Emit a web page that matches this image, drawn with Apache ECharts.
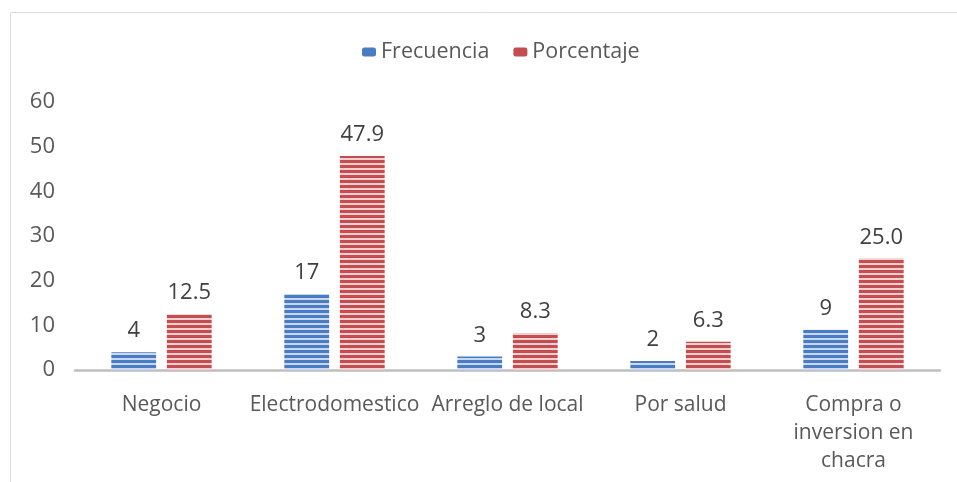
<!DOCTYPE html>
<html>
<head>
<meta charset="utf-8">
<script src="https://cdn.jsdelivr.net/npm/echarts@6/dist/echarts.min.js"></script>
<style>
  html, body { margin: 0; padding: 0; background: #fff; }
  #chart { width: 957px; height: 482px; }
</style>
</head>
<body>
<div id="chart"></div>
<script>
// datos del grafico
var categorias = ['Negocio', 'Electrodomestico', 'Arreglo de local', 'Por salud', 'Compra o\ninversion en\nchacra'];
var frecuencia = [4, 17, 3, 2, 9];
var porcentaje = [12.5, 47.9, 8.3, 6.3, 25.0];
var ticksY = [0, 10, 20, 30, 40, 50, 60];

// relleno a rayas horizontales
function rayas(oscuro, claro) {
	var c = document.createElement('canvas');
	c.width = 4;
	c.height = 5;
	var ctx = c.getContext('2d');
	ctx.fillStyle = claro;
	ctx.fillRect(0, 0, 4, 5);
	ctx.fillStyle = oscuro;
	ctx.fillRect(0, 0, 4, 3);
	return { image: c, repeat: 'repeat' };
}

var azul = rayas('#4a7cc4', '#c9d8f0');
var rojo = rayas('#c44d4f', '#f3cfcf');

var fuente = 'Open Sans';
var myChart = echarts.init(document.getElementById('chart'));
var option = {
	animation: false,
	textStyle: { fontFamily: fuente },
	graphic: [{
		type: 'polyline',
		shape: { points: [[10.5, 482], [10.5, 12.5], [957, 12.5]] },
		style: { stroke: '#d9d9d9', lineWidth: 1, fill: null }
	}],
	legend: {
		top: 36,
		left: 357,
		itemWidth: 14,
		itemHeight: 9,
		itemGap: 24,
		textStyle: { fontFamily: fuente, fontSize: 21.5, color: '#595959' },
		data: [
			{ name: 'Frecuencia', itemStyle: { color: '#4a7cc4' } },
			{ name: 'Porcentaje', itemStyle: { color: '#c44d4f' } }
		]
	},
	grid: {
		left: 75,
		right: 17,
		top: 102,
		bottom: 112
	},
	xAxis: {
		type: 'category',
		data: categorias,
		axisTick: { show: false },
		axisLine: { lineStyle: { color: '#bfbfbf', width: 2.5 } },
		axisLabel: {
			interval: 0,
			margin: 21,
			fontFamily: fuente,
			fontSize: 21,
			color: '#595959',
			lineHeight: 28
		}
	},
	yAxis: {
		type: 'value',
		min: 0,
		max: 60,
		interval: 10,
		splitLine: { show: false },
		axisLine: { show: false },
		axisTick: { show: false },
		axisLabel: {
			margin: 20,
			fontFamily: fuente,
			fontSize: 22,
			color: '#595959',
			formatter: function (v) { return ticksY.indexOf(v) >= 0 ? String(v) : ''; }
		}
	},
	series: [{
		name: 'Frecuencia',
		type: 'bar',
		data: frecuencia,
		barGap: '24%',
		barCategoryGap: '42%',
		itemStyle: { color: azul },
		label: {
			show: true,
			position: 'top',
			distance: 10,
			fontFamily: fuente,
			fontSize: 22,
			color: '#404040'
		}
	}, {
		name: 'Porcentaje',
		type: 'bar',
		data: porcentaje,
		itemStyle: { color: rojo },
		label: {
			show: true,
			position: 'top',
			distance: 10,
			fontFamily: fuente,
			fontSize: 22,
			color: '#404040',
			formatter: function (p) { return p.value.toFixed(1); }
		}
	}]
};
myChart.setOption(option);
</script>
</body>
</html>
